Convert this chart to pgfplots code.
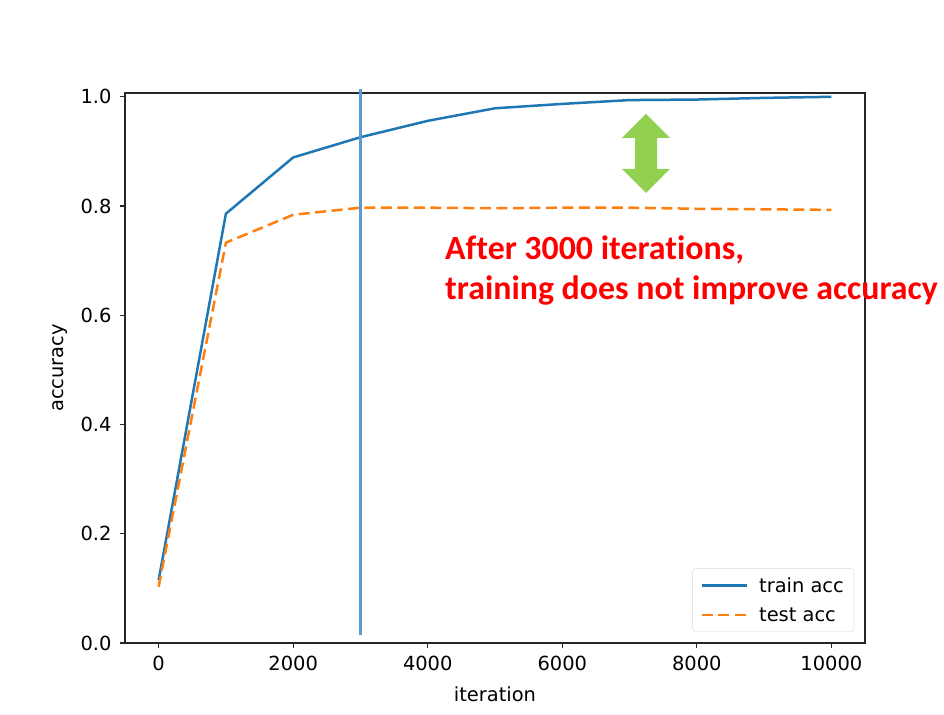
\documentclass[border=0pt]{standalone}
\usepackage{pgfplots}
\pgfplotsset{compat=1.18}
\usepackage{fontspec}
\setmainfont{DejaVu Sans}
\newfontfamily\carlito[Ligatures={NoCommon}]{Carlito}
\definecolor{mplblue}{HTML}{1F77B4}
\definecolor{mplorange}{HTML}{FF7F0E}
\definecolor{vline}{RGB}{91,155,213}
\definecolor{arrowgreen}{HTML}{92D050}
\newcommand{\lbl}{\fontsize{19.5}{23}\selectfont}
\begin{document}
\begin{tikzpicture}[x=1bp,y=1bp]
\useasboundingbox (0,0) rectangle (944,715);
\begin{axis}[
  at={(125bp,72bp)}, anchor=south west,
  scale only axis, width=740bp, height=550bp,
  xmin=-500, xmax=10500, ymin=0, ymax=1.007,
  xtick={0,2000,4000,6000,8000,10000},
  ytick={0,0.2,0.4,0.6,0.8,1},
  scaled x ticks=false,
  /pgf/number format/assume math mode=true,
  xticklabel style={font=\lbl, yshift=-5bp, /pgf/number format/1000 sep={}},
  yticklabel style={font=\lbl, xshift=-5bp, /pgf/number format/.cd, fixed, fixed zerofill, precision=1},
  tick align=outside, tick pos=left, major tick length=5bp,
  every tick/.style={black!85, line width=1.1bp},
  axis line style={black!85, line width=1.1bp},
  xlabel={iteration}, ylabel={accuracy},
  every axis x label/.style={at={(axis description cs:0.5,-0.107)}, anchor=base, font=\lbl},
  every axis y label/.style={at={(axis description cs:-0.0878,0.5)}, anchor=center, rotate=90, font=\lbl},
  clip=false,
  legend style={at={(1,0)}, anchor=south east, xshift=-11bp, yshift=11bp,
    draw=black!15, rounded corners=3bp, fill=white, font=\lbl,
    inner xsep=8bp, inner ysep=7bp, row sep=10bp,
    /tikz/every odd column/.append style={column sep=9bp}},
  legend cell align=left,
  legend image code/.code={\draw[#1] (0bp,0bp) -- (45bp,0bp);},
]
\addplot[mplblue, line width=2.5bp] coordinates {
(0,0.115) (1000,0.786) (2000,0.889) (3000,0.926) (4000,0.956) (5000,0.979)
(6000,0.987) (7000,0.994) (8000,0.995) (9000,0.998) (10000,1.0)};
\addlegendentry{train acc}
\addplot[mplorange, line width=2.5bp, dash pattern=on 11bp off 5.5bp] coordinates {
(0,0.103) (1000,0.733) (2000,0.784) (3000,0.797) (4000,0.797) (5000,0.796)
(6000,0.797) (7000,0.797) (8000,0.795) (9000,0.794) (10000,0.793)};
\addlegendentry{test acc}
\addplot[vline, line width=3bp, forget plot] coordinates {(3000,0.015) (3000,1.015)};
\end{axis}
% green double arrow (px coords converted: y = 715 - ypx)
\fill[arrowgreen] (646,601) -- (670,577) -- (657,577) -- (657,546) -- (670,546) -- (646,522)
  -- (622,546) -- (635,546) -- (635,577) -- (622,577) -- cycle;
\node[anchor=base west, inner sep=0, text=red, font={\carlito\bfseries\fontsize{34}{40}\selectfont}] at (445,455) {After 3000 iterations,};
\node[anchor=base west, inner sep=0, text=red, font={\carlito\bfseries\fontsize{34}{40}\selectfont}] at (445,415) {training does not improve accuracy};
\end{tikzpicture}
\end{document}
